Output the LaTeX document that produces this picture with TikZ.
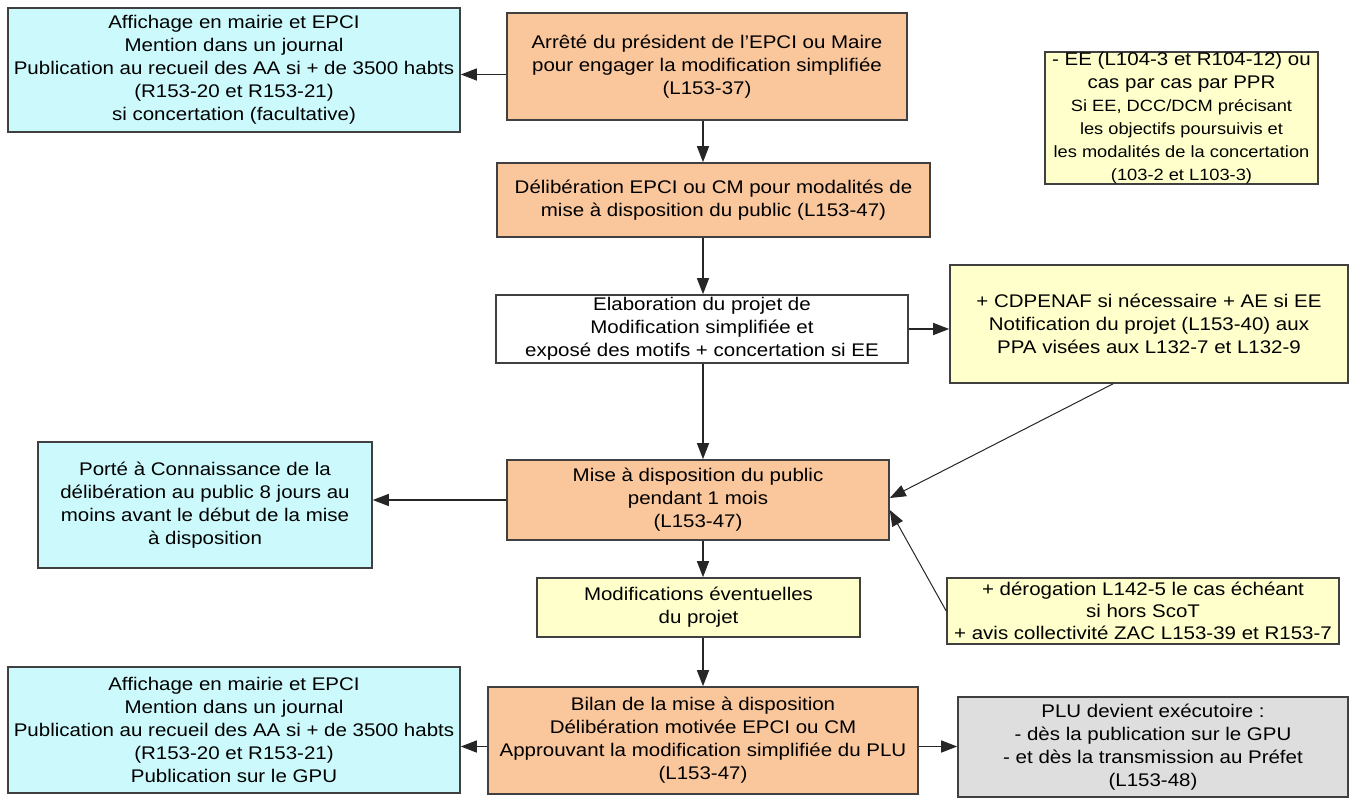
\documentclass[tikz,border=0pt]{standalone}
\usepackage{fontspec}
\setmainfont[FakeStretch=1.12]{Liberation Sans}
\usetikzlibrary{arrows.meta}
\usetikzlibrary{calc}
\definecolor{orangebox}{RGB}{250,198,156}
\definecolor{cyanbox}{RGB}{204,250,252}
\definecolor{jaunebox}{RGB}{255,255,204}
\definecolor{grisbox}{RGB}{222,222,222}
\tikzset{
  boite/.style={draw=black!75,line width=1.6pt,align=center,inner sep=0pt,font=\fontsize{18.3}{23}\selectfont},
  taille/.style 2 args={minimum width=#1pt,minimum height=#2pt},
  fleche/.style={-{Triangle[length=16pt,width=12pt]},line width=1.3pt,draw=black!85}
}

\begin{document}
\begin{tikzpicture}[x=1pt,y=-1pt]
\useasboundingbox (0,0) rectangle (1354,798);
\coordinate (axe) at (703,0);
% colonne centrale
\node[boite,fill=orangebox,taille={400}{107}] (arrete) at (707,66.5) {Arrêté du président de l'EPCI ou Maire\\pour engager la  modification simplifiée\\(L153-37)};
\node[boite,fill=orangebox,taille={433}{74}] (delib) at (713.5,200) {Délibération EPCI ou CM pour modalités de\\mise à disposition du public (L153-47)};
\node[boite,fill=white,taille={412}{68}] (elabo) at (702,329) {Elaboration du projet de\\Modification simplifiée et\\exposé des motifs + concertation si EE};
\node[boite,fill=orangebox,taille={382}{80}] (mad) at (698,500) {Mise à disposition du public\\pendant 1 mois\\(L153-47)};
\node[boite,fill=jaunebox,taille={323}{59}] (modifs) at (698.5,607.5) {Modifications éventuelles\\du projet};
\node[boite,fill=orangebox,taille={430}{107}] (bilan) at (703,740.5) {Bilan de la mise à disposition\\Délibération motivée EPCI ou CM\\Approuvant la modification simplifiée du PLU\\(L153-47)};
% a gauche
\node[boite,fill=cyanbox,taille={452}{124}] (affichage) at (234,70) {Affichage en mairie et EPCI\\Mention dans un journal\\Publication au recueil des AA si + de 3500 habts\\(R153-20 et R153-21)\\si concertation (facultative)};
\node[boite,fill=cyanbox,taille={334}{126}] (porte) at (205,505) {Porté à Connaissance de la\\délibération au public 8 jours au\\moins avant le début de la mise\\à disposition};
\node[boite,fill=cyanbox,taille={452}{126}] (publi) at (234,730) {Affichage en mairie et EPCI\\Mention dans un journal\\Publication au recueil des AA si + de 3500 habts\\(R153-20 et R153-21)\\Publication sur le GPU};
% a droite
\node[boite,fill=jaunebox,taille={273}{130}] (ee) at (1181.5,118) {- EE (L104-3 et R104-12) ou\\cas par cas par PPR\\\fontsize{16.3}{20}\selectfont Si EE,  DCC/DCM précisant\\\fontsize{16.3}{20}\selectfont les objectifs poursuivis et\\\fontsize{16.3}{20}\selectfont les modalités de la concertation\\\fontsize{16.3}{20}\selectfont (103-2 et L103-3)};
\node[boite,fill=jaunebox,taille={398}{118}] (notif) at (1149,324) {+ CDPENAF si nécessaire + AE si EE\\Notification du projet (L153-40) aux\\PPA visées aux  L132-7 et L132-9};
\node[boite,fill=jaunebox,taille={392}{66},font=\fontsize{18.3}{22}\selectfont] (derog) at (1143,611) {+ dérogation L142-5 le cas échéant\\si hors ScoT\\+ avis collectivité ZAC L153-39 et R153-7};
\node[boite,fill=grisbox,taille={390}{100}] (exec) at (1153,747) {PLU devient exécutoire :\\- dès la publication sur le GPU\\- et dès la transmission au Préfet\\(L153-48)};
% fleches
\draw[fleche] (arrete.south -| axe) -- (delib.north -| axe);
\draw[fleche] (delib.south -| axe) -- (elabo.north -| axe);
\draw[fleche] (elabo.south -| axe) -- (mad.north -| axe);
\draw[fleche] (mad.south -| axe) -- (modifs.north -| axe);
\draw[fleche] (modifs.south -| axe) -- (bilan.north -| axe);
\draw[fleche] ([yshift=-8pt]arrete.west) -- ([yshift=-8pt]arrete.west -| affichage.east);
\draw[fleche] (elabo.east) -- (elabo.east -| notif.west);
\draw[fleche] (mad.west) -- (mad.west -| porte.east);
\draw[fleche] ([yshift=-6pt]bilan.west) -- ([yshift=-6pt]bilan.west -| publi.east);
\draw[fleche] ([yshift=-6pt]bilan.east) -- ([yshift=-6pt]bilan.east -| exec.west);
\draw[fleche,line width=1pt] ($(notif.south west)!0.41!(notif.south east)$) -- ([yshift=2pt]mad.east);
\draw[fleche,line width=1pt] (derog.west) -- ([yshift=-10pt]mad.east);
\end{tikzpicture}
\end{document}
